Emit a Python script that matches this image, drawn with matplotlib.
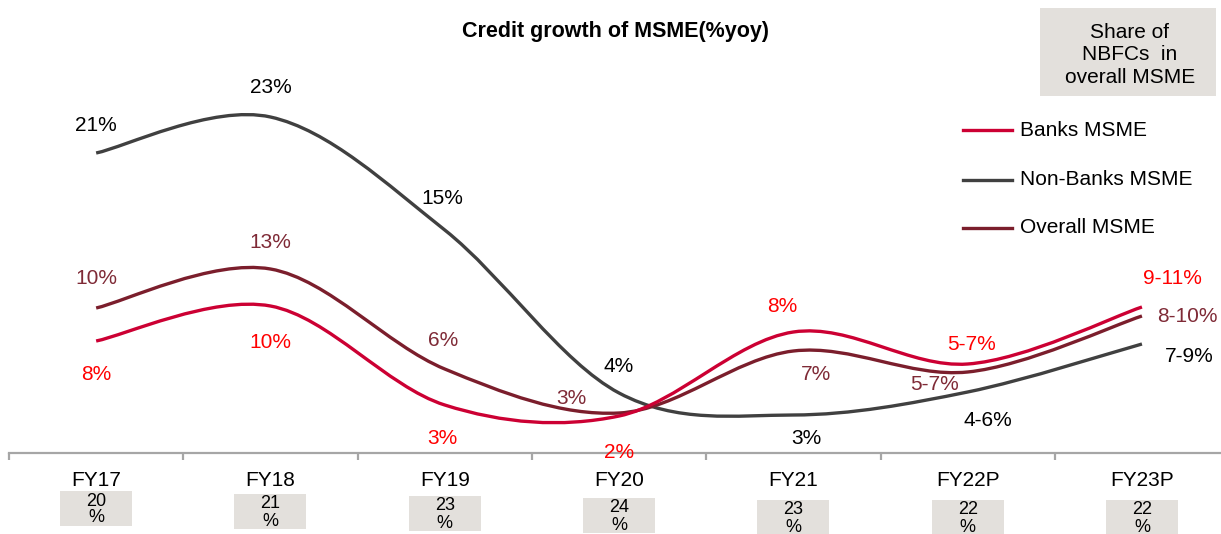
import matplotlib
matplotlib.use("Agg")
import matplotlib.pyplot as plt
import numpy as np
from matplotlib.path import Path
from matplotlib.patches import PathPatch, Rectangle
from matplotlib.lines import Line2D
from matplotlib.transforms import blended_transform_factory

plt.rcParams['font.family'] = ['Liberation Sans', 'DejaVu Sans']

# ---------------- data ----------------
categories = ["FY17", "FY18", "FY19", "FY20", "FY21", "FY22P", "FY23P"]
series_names = ["Banks MSME", "Non-Banks MSME", "Overall MSME"]
# plotted levels
banks_vals = [5.6, 7.35, 2.4, 1.85, 6.05, 4.45, 7.3]
nonbanks_vals = [15.0, 16.8, 11.15, 3.0, 1.9, 3.05, 5.45]
overall_vals = [7.25, 9.2, 4.2, 2.0, 5.1, 4.05, 6.85]
# data labels as printed
banks_labels = ["8%", "10%", "3%", "2%", "8%", "5-7%", "9-11%"]
nonbanks_labels = ["21%", "23%", "15%", "4%", "3%", "4-6%", "7-9%"]
overall_labels = ["10%", "13%", "6%", "3%", "7%", "5-7%", "8-10%"]
nbfc_share = ["20", "21", "23", "24", "23", "22", "22"]

# ---------------- styling / layout ----------------
W, H = 1221, 534
fig = plt.figure(figsize=(W / 100, H / 100), dpi=100)
PX = 20.0  # pixels per unit
ax_left, ax_bottom_px, ax_top_px = 9, 453, 40
ax_width_px = 7 * 174.3
ax = fig.add_axes([ax_left / W, (H - ax_bottom_px) / H, ax_width_px / W,
                   (ax_bottom_px - ax_top_px) / H])
ax.set_xlim(-0.5, 6.5)
ax.set_ylim(0, (ax_bottom_px - ax_top_px) / PX)
for s in ["top", "right", "left"]:
    ax.spines[s].set_visible(False)
ax.spines["bottom"].set_color("#a6a6a6")
ax.spines["bottom"].set_linewidth(1.6)
ax.set_yticks([])
ax.set_xticks(np.arange(-0.5, 7.0, 1.0))
ax.set_xticklabels([])
ax.tick_params(axis="x", direction="out", length=5, width=1.6, color="#a6a6a6")

c_banks = "#cc0033"
c_non = "#404040"
c_over = "#7b1e2c"
lc_banks = "#ff0000"
lc_non = "#000000"
lc_over = "#7f2a36"


def smooth_path(xs, ys):
    pts = np.column_stack([xs, ys]).astype(float)
    n = len(pts)
    verts = [pts[0]]
    codes = [Path.MOVETO]
    for i in range(n - 1):
        p0 = pts[i - 1] if i > 0 else pts[i]
        p1 = pts[i]
        p2 = pts[i + 1]
        p3 = pts[i + 2] if i + 2 < n else pts[i + 1]
        c1 = p1 + (p2 - p0) / 6.0
        c2 = p2 - (p3 - p1) / 6.0
        verts += [c1, c2, p2]
        codes += [Path.CURVE4] * 3
    return Path(verts, codes)


x = np.arange(len(categories))
for vals, col in [(nonbanks_vals, c_non), (overall_vals, c_over), (banks_vals, c_banks)]:
    ax.add_patch(PathPatch(smooth_path(x, vals), fill=False, edgecolor=col,
                           lw=2.4, capstyle="butt", joinstyle="round"))

fs = 15
non_off = [(0, 27), (0, 29), (-2, 31), (0, 26), (13, -23), (20, -29), (47, -13)]
over_off = [(0, 30), (0, 26), (-2, 29), (-48, 14), (23, -23), (-33, -12), (45, 0)]
bank_off = [(0, -34), (0, -36), (-2, -33), (0, -36), (-11, 25), (4, 19), (30, 29)]
for vals, labs, offs, col in [(nonbanks_vals, nonbanks_labels, non_off, lc_non),
                              (overall_vals, overall_labels, over_off, lc_over),
                              (banks_vals, banks_labels, bank_off, lc_banks)]:
    for i, (v, lab, off) in enumerate(zip(vals, labs, offs)):
        ax.annotate(lab, xy=(i, v), xytext=off, textcoords="offset pixels",
                    ha="center", va="center", fontsize=fs, color=col,
                    annotation_clip=False)

# category labels and share boxes
bt = blended_transform_factory(ax.transData, fig.transFigure)
box_tops = [491, 494, 496, 498, 500, 500, 500]
for i, (cat, sh) in enumerate(zip(categories, nbfc_share)):
    fig.text(i, 1 - 481 / H, cat, transform=bt, ha="center", va="center",
             fontsize=fs, color="black", zorder=5)
    top = box_tops[i]
    bw = 72 / 174.3
    rect = Rectangle((i - bw / 2, 1 - (top + 35) / H), bw, 35 / H,
                     transform=bt, facecolor="#e3e0dc", edgecolor="none",
                     clip_on=False, zorder=1)
    fig.add_artist(rect)
    fig.text(i, 1 - (top + 10) / H, sh, transform=bt, ha="center", va="center",
             fontsize=13, color="black", zorder=5)
    fig.text(i, 1 - (top + 27) / H, "%", transform=bt, ha="center", va="center",
             fontsize=13, color="black", zorder=5)

# title
fig.text(616 / W, 1 - 32 / H, "Credit growth of MSME(%yoy)", ha="center",
         va="center", fontsize=15.5, fontweight="bold")

# share box top right
fig.add_artist(Rectangle((1040 / W, 1 - 96 / H), 176 / W, 88 / H,
                         transform=fig.transFigure, facecolor="#e3e0dc",
                         edgecolor="none", zorder=1))
fig.text(1130 / W, 1 - 55 / H, "Share of\nNBFCs  in\noverall MSME", ha="center",
         va="center", fontsize=15, linespacing=1.25, zorder=5)

# legend
for name, col, yy in zip(series_names, [c_banks, c_non, c_over], [130, 180, 228]):
    fig.add_artist(Line2D([963 / W, 1012 / W], [1 - yy / H, 1 - yy / H],
                          transform=fig.transFigure, color=col, lw=2.4))
    fig.text(1020 / W, 1 - yy / H, name, ha="left", va="center", fontsize=15)

fig.savefig("out.png", dpi=100)
